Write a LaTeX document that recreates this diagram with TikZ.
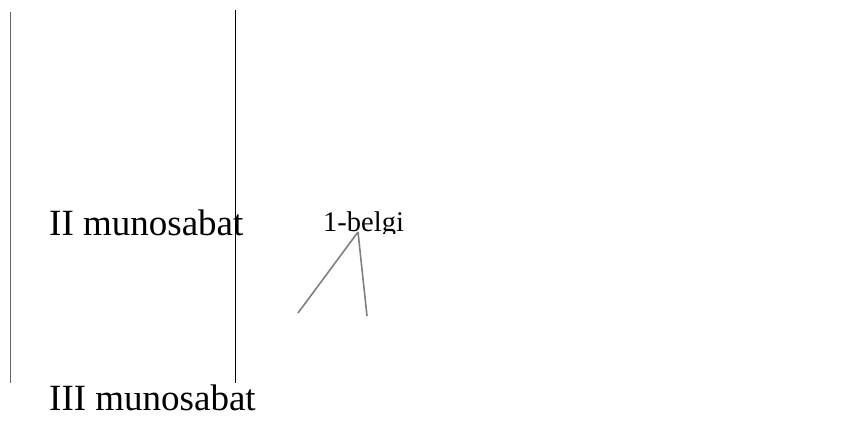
\documentclass[tikz,border=0pt]{standalone}
\usepackage{fontspec}
\setmainfont{Liberation Serif}
\usetikzlibrary{positioning}

\begin{document}
\begin{tikzpicture}[x=1pt,y=-1pt,every node/.style={inner sep=0pt,anchor=base west}]
			
			\useasboundingbox (0,0) rectangle (859,421);
			
			% Labels
			\node (rel2) at (49,235) {\fontsize{37}{37}\selectfont II munosabat};
			\node (rel3) at (49,410) {\fontsize{37}{37}\selectfont III munosabat};
			\begin{scope}
				\clip (300,190) rectangle (430,233);
				\node (sign1) at (323,231) {\fontsize{28.5}{28.5}\selectfont 1-belgi};
			\end{scope}
			
			% Points
			\coordinate (lt) at (10,12);
			\coordinate (lb) at (10,383);
			\coordinate (mt) at (235,10);
			\coordinate (mb) at (235,383);
			\coordinate (apex) at (358,232);
			\coordinate (leg1) at (298,313);
			\coordinate (leg2) at (367,316);
			
			% Lines
			\draw[gray!80!black,line width=1pt] (lt) -- (lb);
			\draw[line width=1pt] (mt) -- (mb);
			\draw[gray,line width=1.6pt] (apex) -- (leg1);
			\draw[gray,line width=1.6pt] (apex) -- (leg2);
			
		\end{tikzpicture}
\end{document}
